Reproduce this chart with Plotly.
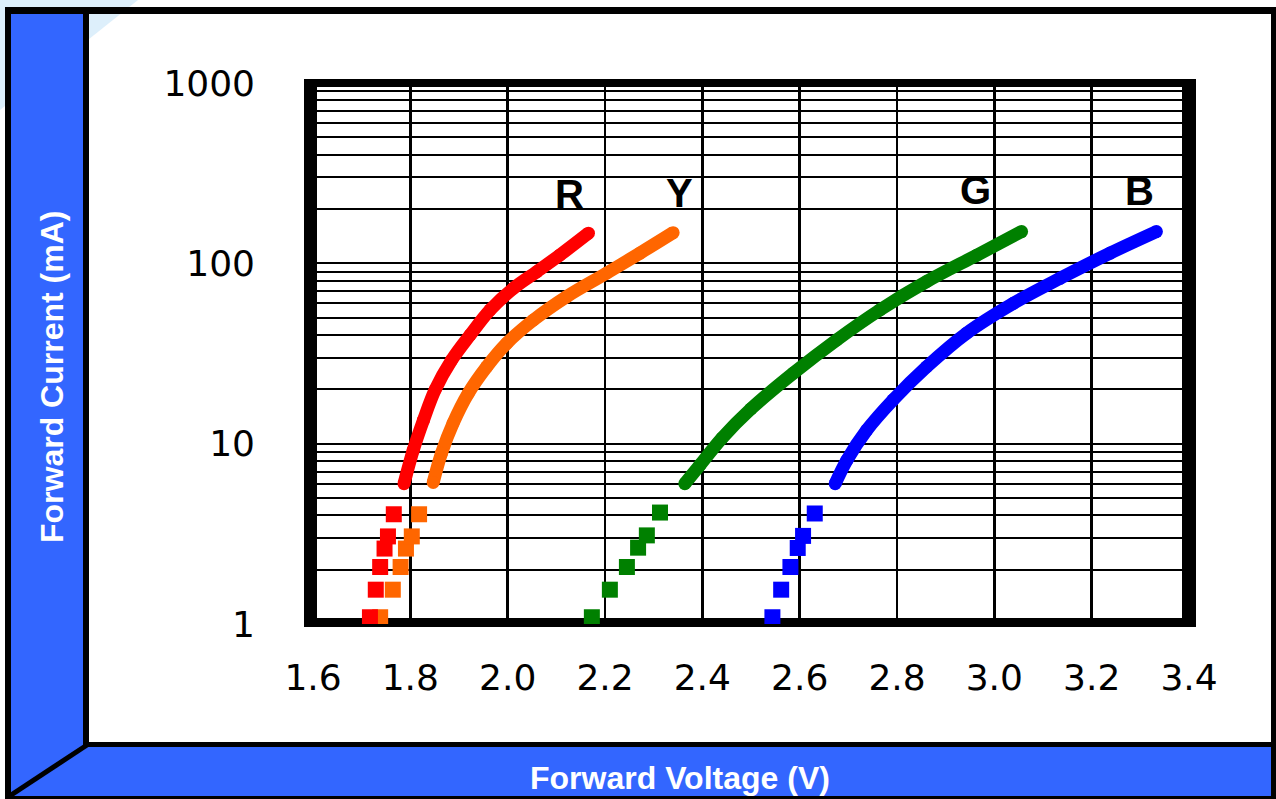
import plotly.graph_objects as go

# ---------------- data ----------------
# low-current region: discrete square markers
red_step_v = [1.717, 1.729, 1.738, 1.747, 1.754, 1.766]
red_step_i = [1.09, 1.55, 2.07, 2.62, 3.06, 4.06]
orange_step_v = [1.738, 1.764, 1.780, 1.791, 1.803, 1.818]
orange_step_i = [1.09, 1.55, 2.07, 2.62, 3.06, 4.06]
green_step_v = [2.173, 2.210, 2.245, 2.268, 2.286, 2.313]
green_step_i = [1.09, 1.55, 2.07, 2.65, 3.10, 4.15]
blue_step_v = [2.544, 2.562, 2.581, 2.596, 2.607, 2.631]
blue_step_i = [1.09, 1.55, 2.07, 2.64, 3.08, 4.10]

# continuous curves
red_v = [1.787, 1.806, 1.827, 1.851, 1.885, 1.923, 1.964, 2.012, 2.060, 2.107, 2.166]
red_i = [6.0, 9.2, 13.5, 19.9, 29.1, 40.1, 55.2, 72.8, 89.9, 111, 147]
orange_v = [1.847, 1.864, 1.888, 1.919, 1.957, 1.998, 2.053, 2.121, 2.203, 2.272, 2.340]
orange_i = [6.1, 8.85, 13.0, 19.0, 26.7, 36.0, 48.5, 65.3, 88.1, 114, 148]
green_v = [2.364, 2.395, 2.440, 2.500, 2.587, 2.676, 2.765, 2.861, 2.964, 3.056]
green_i = [6.0, 7.6, 10.7, 15.6, 24.6, 37.6, 55.2, 79.3, 111, 150]
blue_v = [2.673, 2.697, 2.738, 2.792, 2.861, 2.943, 3.039, 3.135, 3.238, 3.333]
blue_i = [6.0, 8.1, 11.9, 17.5, 26.7, 41, 60, 82.6, 114, 150]

series_names = ["Y", "R", "G", "B"]
series_colors = ["#FF6600", "#FF0000", "#008000", "#0000FF"]

x_tick_vals = [1.6, 1.8, 2.0, 2.2, 2.4, 2.6, 2.8, 3.0, 3.2, 3.4]
x_tick_text = ["1.6", "1.8", "2.0", "2.2", "2.4", "2.6", "2.8", "3.0", "3.2", "3.4"]
y_tick_vals = [1, 10, 100, 1000]
y_tick_text = ["1", "10", "100", "1000"]
y_minor_vals = [2, 3, 4, 5, 6, 7, 8, 9, 20, 30, 40, 50, 60, 70, 80, 90,
                200, 300, 400, 500, 600, 700, 800, 900]

# curve letter labels (voltage, log10 current)
label_text = ["R", "Y", "G", "B"]
label_v = [2.127, 2.354, 2.962, 3.299]
label_logi = [2.385, 2.39, 2.407, 2.40]

x_title = "Forward Voltage (V)"
y_title = "Forward Current (mA)"

# ---------------- layout geometry ----------------
W, H = 1276, 799
L, R, T, B = 313, 87, 83, 175
PW, PH = W - L - R, H - T - B
BLUE = "#3366FF"


def px(x):
    return (x - L) / PW


def py(y):
    return (H - B - y) / PH


def rect(x0, y0, x1, y1, color):
    return dict(type="rect", xref="paper", yref="paper", layer="below",
                x0=px(x0), x1=px(x1), y0=py(y1), y1=py(y0),
                fillcolor=color, line=dict(width=0))


fig = go.Figure()

step_sets = [(orange_step_v, orange_step_i), (red_step_v, red_step_i),
             (green_step_v, green_step_i), (blue_step_v, blue_step_i)]
curve_sets = [(orange_v, orange_i), (red_v, red_i),
              (green_v, green_i), (blue_v, blue_i)]

for name, col, (sv, si), (cv, ci) in zip(series_names, series_colors, step_sets, curve_sets):
    fig.add_trace(go.Scatter(x=sv, y=si, mode="markers", name=name,
                             marker=dict(symbol="square", size=16, color=col,
                                         line=dict(width=0)),
                             showlegend=False, hoverinfo="skip"))
    fig.add_trace(go.Scatter(x=cv, y=ci, mode="lines+markers", name=name,
                             line=dict(color=col, width=13, shape="spline", smoothing=1.0),
                             marker=dict(symbol="circle", size=13, color=col,
                                         line=dict(width=0)),
                             showlegend=False, hoverinfo="skip"))

shapes = [
    # light blue background corner
    dict(type="path", xref="paper", yref="paper", layer="below",
         path=f"M {px(0)},{py(0)} L {px(138)},{py(0)} L {px(0)},{py(110)} Z",
         fillcolor="#DDEFFB", line=dict(width=0)),
    # blue side / bottom panels
    rect(8, 10, 86, 797, BLUE),
    rect(8, 744, 1273, 797, BLUE),
    # outer black frame lines
    rect(5, 7, 1276, 14, "black"),
    rect(5, 7, 11, 799, "black"),
    rect(83, 14, 89, 745, "black"),
    rect(86, 742, 1276, 747, "black"),
    rect(1271, 7, 1276, 799, "black"),
    rect(5, 796, 1276, 799, "black"),
    dict(type="line", xref="paper", yref="paper", layer="below",
         x0=px(8), y0=py(797), x1=px(87), y1=py(745),
         line=dict(color="black", width=5)),
    # thick plot border
    rect(304, 79, 317, 627, "black"),
    rect(304, 79, 1196, 87, "black"),
    rect(1182, 79, 1196, 627, "black"),
    rect(304, 618, 1196, 627, "black"),
]

annotations = [
    dict(text=f"<b>{x_title}</b>", xref="paper", yref="paper",
         x=px(680), y=py(778), xanchor="center", yanchor="middle", showarrow=False,
         font=dict(family="Liberation Sans", size=32, color="white")),
    dict(text=f"<b>{y_title}</b>", xref="paper", yref="paper", textangle=-90,
         x=px(52), y=py(377), xanchor="center", yanchor="middle", showarrow=False,
         font=dict(family="Liberation Sans", size=32, color="white")),
]
for t, v, li in zip(label_text, label_v, label_logi):
    annotations.append(dict(text=f"<b>{t}</b>", xref="x", yref="y", x=v, y=li,
                            showarrow=False, xanchor="center", yanchor="middle",
                            font=dict(family="Liberation Sans", size=40, color="black")))

fig.update_layout(
    width=W, height=H, autosize=False,
    margin=dict(l=L, r=R, t=T, b=B, pad=0),
    paper_bgcolor="white", plot_bgcolor="rgba(0,0,0,0)",
    shapes=shapes, annotations=annotations, showlegend=False,
    xaxis=dict(range=[1.6, 3.4], tickmode="array", tickvals=x_tick_vals, ticktext=x_tick_text,
               showgrid=True, gridcolor="black", gridwidth=2.5, zeroline=False,
               showline=False, ticks="", ticklabelstandoff=29,
               tickfont=dict(family="DejaVu Sans", size=36, color="black"),
               fixedrange=True),
    yaxis=dict(type="log", range=[0, 3], tickmode="array", tickvals=y_tick_vals, ticktext=y_tick_text,
               showgrid=True, gridcolor="black", gridwidth=2, zeroline=False,
               showline=False, ticks="", ticklabelstandoff=57,
               minor=dict(tickmode="array", tickvals=y_minor_vals, showgrid=True,
                          gridcolor="black", gridwidth=2, ticks=""),
               tickfont=dict(family="DejaVu Sans", size=36, color="black"),
               fixedrange=True),
)

fig.write_html(
    "out.html",
    config={"displayModeBar": False, "staticPlot": True},
    post_script="document.body.style.margin='0';document.body.style.padding='0';"
                "document.body.style.overflow='hidden';",
)
